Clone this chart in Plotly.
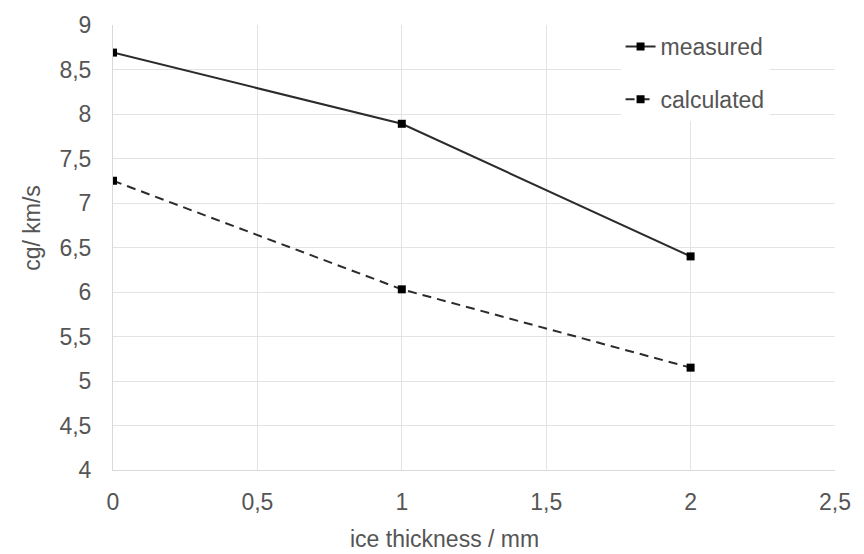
import plotly.graph_objects as go

thickness = [0, 1, 2]
measured = [8.69, 7.89, 6.40]
calculated = [7.25, 6.03, 5.15]
x_ticks = [0, 0.5, 1, 1.5, 2, 2.5]
y_ticks = [4, 4.5, 5, 5.5, 6, 6.5, 7, 7.5, 8, 8.5, 9]

font = "Liberation Sans, Arial, sans-serif"
fig = go.Figure()
fig.add_trace(go.Scatter(x=thickness, y=measured, name="measured", mode="lines+markers",
                         line=dict(color="#2b2b2b", width=2),
                         marker=dict(symbol="square", size=8, color="black"),
                         legendgroup="a"))
fig.add_trace(go.Scatter(x=thickness, y=calculated, name="calculated", mode="lines+markers",
                         line=dict(color="#2b2b2b", width=2, dash="9px,6px"),
                         marker=dict(symbol="square", size=8, color="black"),
                         legendgroup="b"))

fig.update_layout(
    width=864, height=554,
    margin=dict(l=113, r=29, t=18, b=84),
    paper_bgcolor="white", plot_bgcolor="white",
    separators=",.",
    font=dict(family=font, size=23, color="#555555"),
    showlegend=True,
    legend=dict(x=0.703, y=1.0, xanchor="left", yanchor="top",
                bgcolor="white", font=dict(size=23, color="#555555"),
                tracegroupgap=20, traceorder="grouped"),
    xaxis=dict(range=[0, 2.5], tickvals=x_ticks, showgrid=True, gridcolor="#e3e3e3",
               gridwidth=1, zeroline=False, showline=True, linecolor="#d9d9d9",
               ticks="", ticklabelstandoff=11, tickfont=dict(size=23)),
    yaxis=dict(range=[4, 9], tickvals=y_ticks, showgrid=True, gridcolor="#e3e3e3",
               gridwidth=1, zeroline=False, showline=True, linecolor="#d9d9d9",
               ticks="", ticklabelstandoff=16, tickfont=dict(size=23)),
    annotations=[
        dict(text="ice thickness / mm", xref="paper", yref="paper", x=(444 - 113) / 722,
             y=-(540 - 470) / 452, xanchor="center", yanchor="middle", showarrow=False,
             font=dict(size=23, color="#555555")),
        dict(text="cg/ km/s", xref="paper", yref="paper", x=-(113 - 32) / 722,
             y=(470 - 224) / 452, xanchor="center", yanchor="middle", showarrow=False,
             textangle=-90, font=dict(size=23, color="#555555")),
    ],
)
fig.write_html("out.html")
